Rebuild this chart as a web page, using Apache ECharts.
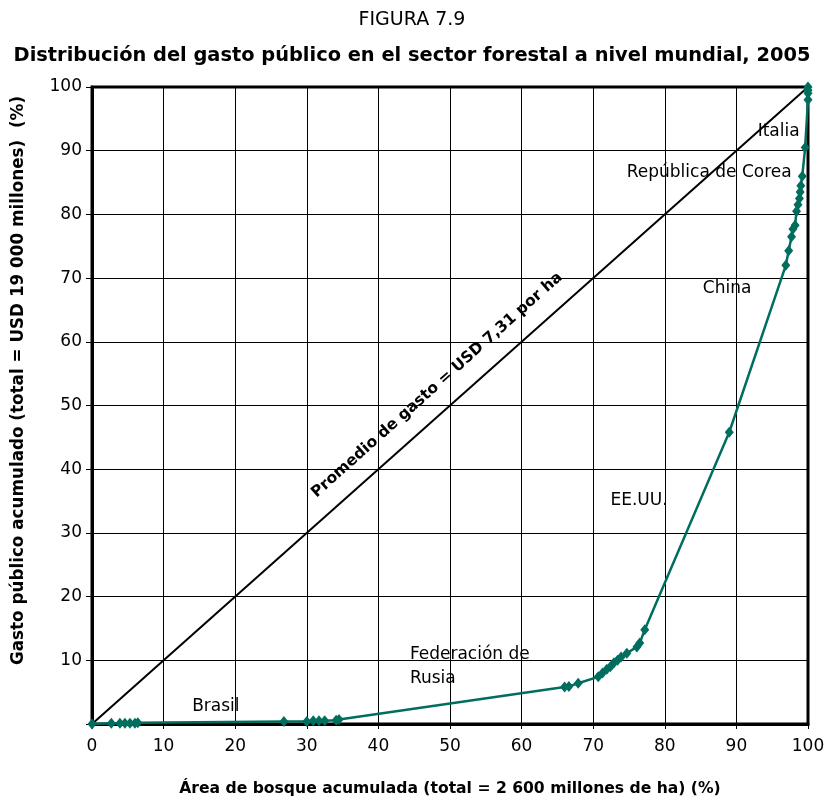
<!DOCTYPE html>
<html><head><meta charset="utf-8">
<script src="https://cdn.jsdelivr.net/npm/echarts@6/dist/echarts.min.js"></script>
<style>html,body{margin:0;padding:0;background:#fff}#c{width:824px;height:800px}</style>
</head><body><div id="c"></div>
<script>
// Cumulative forest area (%) and cumulative public spending (%)
const areaPct = [0, 2.7, 3.9, 4.6, 5.3, 6.0, 6.4, 26.8, 30.0, 30.9, 31.7, 32.5, 34.1, 34.5,
  66.0, 66.6, 67.9, 70.7, 71.3, 71.9, 72.4, 72.9, 73.4, 73.9, 74.7, 76.1, 76.5, 77.2,
  89.0, 96.9, 97.3, 97.7, 97.9, 98.2, 98.4, 98.6, 98.8, 98.9, 99.0, 99.2, 99.6, 100, 100, 100, 100];
const spendPct = [0, 0.1, 0.1, 0.1, 0.1, 0.1, 0.2, 0.4, 0.4, 0.5, 0.5, 0.5, 0.6, 0.7,
  5.8, 5.9, 6.4, 7.4, 8.0, 8.6, 9.0, 9.6, 10.0, 10.5, 11.1, 12.1, 12.7, 14.8,
  45.8, 72.0, 74.3, 76.5, 77.7, 78.3, 80.5, 81.5, 82.5, 83.5, 84.5, 86.0, 90.5, 98.0, 99.0, 99.5, 100];
const averageLine = [[0, 0], [100, 100]];
const xTicks = [0, 10, 20, 30, 40, 50, 60, 70, 80, 90, 100];
const yTicks = [10, 20, 30, 40, 50, 60, 70, 80, 90, 100];
const annotationText = ['Italia', 'República de Corea', 'China', 'EE.UU.', 'Federación de\nRusia', 'Brasil'];
const annotationX = [95.9, 86.2, 88.7, 76.4, 44.4, 17.3];
const annotationY = [93.0, 86.6, 68.3, 35.0, 9.0, 2.8];
const diagLabel = 'Promedio de gasto = USD 7,31 por ha';

const FONT = '"DejaVu Sans", "Open Sans", sans-serif';
const curve = areaPct.map((x, i) => [x, spendPct[i]]);
const notes = annotationText.map((t, i) => ({value: [annotationX[i], annotationY[i]], label: {formatter: t, align: i === 4 ? 'left' : 'center'}}));

const chart = echarts.init(document.getElementById('c'), null, {renderer: 'canvas'});
chart.setOption({
  animation: false,
  title: [
    {text: 'FIGURA 7.9', left: 'center', top: 6, textStyle: {fontFamily: FONT, fontSize: 19, fontWeight: 'normal', color: '#000'}},
    {text: 'Distribución del gasto público en el sector forestal a nivel mundial, 2005', left: 'center', top: 41,
     textStyle: {fontFamily: FONT, fontSize: 19.4, fontWeight: 'bold', color: '#000'}}
  ],
  grid: {left: 92, right: 16, top: 87, bottom: 76, show: true, borderColor: '#000', borderWidth: 3, containLabel: false, outerBoundsMode: 'none'},
  xAxis: {
    type: 'value', min: 0, max: 100, interval: 10,
    name: 'Área de bosque acumulada (total = 2 600 millones de ha) (%)', nameLocation: 'middle', nameGap: 57,
    nameTextStyle: {fontFamily: FONT, fontSize: 15.6, fontWeight: 'bold', color: '#000'},
    axisLine: {lineStyle: {color: '#000', width: 3}},
    axisTick: {show: true, length: 5, lineStyle: {color: '#000'}},
    axisLabel: {fontFamily: FONT, fontSize: 17, color: '#000', margin: 14, hideOverlap: false,
      formatter: v => xTicks.includes(v) ? String(v) : ''},
    splitLine: {show: true, lineStyle: {color: '#000', width: 1}}
  },
  yAxis: {
    type: 'value', min: 0, max: 100, interval: 10,
    name: 'Gasto público acumulado (total = USD 19 000 millones)  (%)', nameLocation: 'middle', nameGap: 65,
    nameTextStyle: {fontFamily: FONT, fontSize: 16.8, fontWeight: 'bold', color: '#000', padding: [0, 0, 0, 50]},
    axisLine: {lineStyle: {color: '#000', width: 3}},
    axisTick: {show: true, length: 6, lineStyle: {color: '#000'}},
    axisLabel: {fontFamily: FONT, fontSize: 17, color: '#000', margin: 10,
      formatter: v => yTicks.includes(v) ? String(v) : ''},
    splitLine: {show: true, lineStyle: {color: '#000', width: 1}}
  },
  series: [
    {type: 'line', data: averageLine, symbol: 'none', lineStyle: {color: '#000', width: 2}, z: 3},
    {type: 'line', data: curve, symbol: 'diamond', symbolSize: [9, 11], showAllSymbol: true,
     itemStyle: {color: '#006e5f'}, lineStyle: {color: '#006e5f', width: 2.5}, z: 4},
    {type: 'scatter', data: notes, symbolSize: 0, z: 5, itemStyle: {opacity: 1},
     label: {show: true, position: 'inside', fontFamily: FONT, fontSize: 17, color: '#000', textBorderWidth: 0, lineHeight: 24}},
    {type: 'scatter', data: [{value: [48.2, 53.2]}], symbolSize: 0, z: 5, itemStyle: {opacity: 1},
     label: {show: true, position: 'inside', formatter: diagLabel, rotate: 41.7, fontFamily: FONT, fontSize: 15.5, fontWeight: 'bold', color: '#000', textBorderWidth: 0}}
  ]
});
</script></body></html>
